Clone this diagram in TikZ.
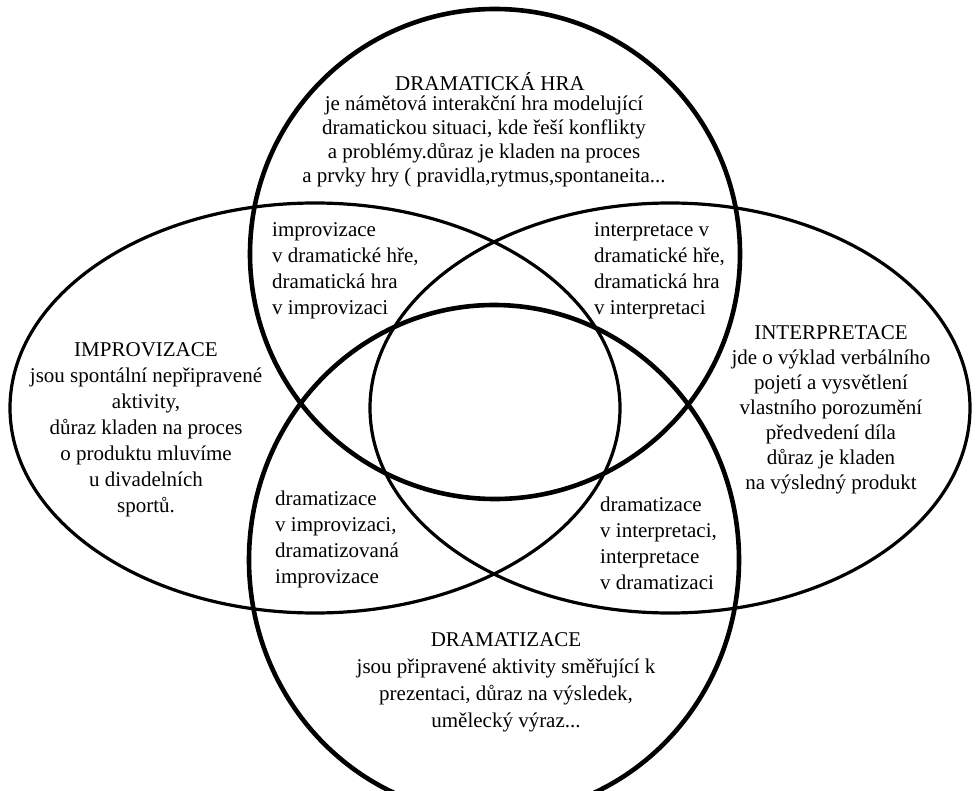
\documentclass[tikz,border=0pt]{standalone}
\usepackage{fontspec}
\setmainfont{Liberation Serif}
\begin{document}
\begin{tikzpicture}[x=1pt,y=-1pt,
        kruh/.style={line width=4.6pt},
        elipsa/.style={line width=3.2pt},
        popis/.style={align=center,inner sep=0pt,font=\fontsize{21}{26}\selectfont},
        prunik/.style={align=left,inner sep=0pt,anchor=west,font=\fontsize{21}{26}\selectfont}]
        \useasboundingbox (0,0) rectangle (976,791);
        \clip (0,0) rectangle (976,791);
        % dvě vodorovné elipsy
        \draw[elipsa] (315,408) ellipse [x radius=305, y radius=205];
        \draw[elipsa] (670,408) ellipse [x radius=300, y radius=205];
        % horní a dolní kruh, tlustší čára
        \draw[kruh] (495,254) circle [radius=245];
        \draw[kruh] (494,560) ellipse [x radius=245, y radius=255];
        % hlavní pole
        \node[popis] (hraNadpis) at (490,82) {DRAMATICKÁ HRA};
        \node[popis,font=\fontsize{21}{24}\selectfont] (hra) at (484,141)
            {je námětová interakční hra modelující\\
             dramatickou situaci, kde řeší konflikty\\
             a problémy.důraz je kladen na proces\\
             a prvky hry ( pravidla,rytmus,spontaneita...};
        \node[popis] (impro) at (146,430)
            {IMPROVIZACE\\ jsou spontální nepřipravené\\ aktivity,\\
             důraz kladen na proces\\ o produktu mluvíme\\ u divadelních\\ sportů.};
        \node[popis,font=\fontsize{21}{25}\selectfont] (interp) at (831,410)
            {INTERPRETACE\\ jde o výklad verbálního\\ pojetí a vysvětlení\\
             vlastního porozumění\\ předvedení díla\\ důraz je kladen\\ na výsledný produkt};
        \node[popis,font=\fontsize{21}{27}\selectfont] (dramatizace) at (506,682)
            {DRAMATIZACE\\ jsou připravené aktivity směřující k\\
             prezentaci, důraz na výsledek,\\ umělecký výraz...};
        % průniky
        \node[prunik] (hraImpro) at (272,271)
            {improvizace\\ v dramatické hře,\\ dramatická hra\\ v improvizaci};
        \node[prunik] (hraInterp) at (594,271)
            {interpretace v\\ dramatické hře,\\ dramatická hra\\ v interpretaci};
        \node[prunik] (dramImpro) at (275,539)
            {dramatizace\\ v improvizaci,\\ dramatizovaná\\ improvizace};
        \node[prunik] (dramInterp) at (600,543)
            {dramatizace\\ v interpretaci,\\ interpretace\\ v dramatizaci};
\end{tikzpicture}
\end{document}
